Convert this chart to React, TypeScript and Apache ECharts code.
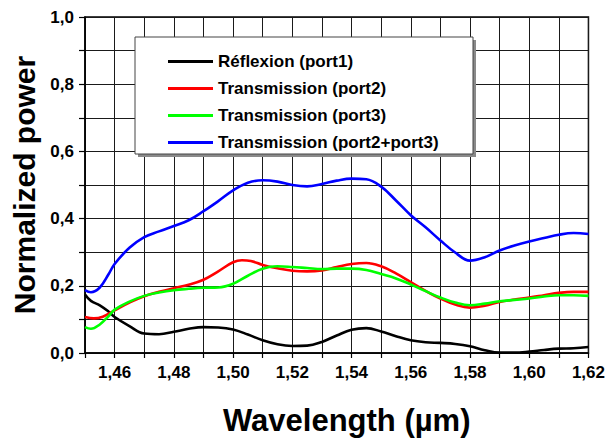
import React, { useEffect, useRef } from "react";
import * as echarts from "echarts";

const seriesNames = [
  "Réflexion (port1)",
  "Transmission (port2)",
  "Transmission (port3)",
  "Transmission (port2+port3)",
];
const seriesColors = ["#000000", "#ff0000", "#00ff00", "#0000ff"];

const port1: [number, number][] = [
  [1.45, 0.174], [1.452, 0.155], [1.455, 0.142], [1.458, 0.123], [1.46, 0.107],
  [1.465, 0.08], [1.47, 0.058], [1.475, 0.056], [1.48, 0.063], [1.485, 0.072],
  [1.49, 0.077], [1.495, 0.076], [1.5, 0.07], [1.505, 0.055], [1.51, 0.038],
  [1.515, 0.026], [1.52, 0.021], [1.525, 0.022], [1.53, 0.033], [1.535, 0.052],
  [1.54, 0.069], [1.545, 0.074], [1.55, 0.064], [1.555, 0.05], [1.56, 0.038],
  [1.565, 0.032], [1.57, 0.03], [1.575, 0.027], [1.58, 0.02], [1.585, 0.008],
  [1.59, 0.001], [1.595, 0.001], [1.6, 0.004], [1.605, 0.009], [1.61, 0.013],
  [1.615, 0.014], [1.62, 0.018],
];
const port2: [number, number][] = [
  [1.45, 0.107], [1.453, 0.103], [1.456, 0.108], [1.46, 0.127], [1.465, 0.15],
  [1.47, 0.169], [1.475, 0.182], [1.48, 0.193], [1.485, 0.203], [1.49, 0.218],
  [1.495, 0.243], [1.5, 0.27], [1.503, 0.276], [1.506, 0.274], [1.51, 0.262],
  [1.515, 0.252], [1.52, 0.245], [1.525, 0.243], [1.53, 0.246], [1.535, 0.256],
  [1.54, 0.265], [1.545, 0.268], [1.55, 0.258], [1.555, 0.237], [1.56, 0.211],
  [1.565, 0.185], [1.57, 0.162], [1.575, 0.144], [1.58, 0.135], [1.585, 0.141],
  [1.59, 0.152], [1.595, 0.159], [1.6, 0.165], [1.605, 0.172], [1.61, 0.179],
  [1.615, 0.182], [1.62, 0.182],
];
const port3: [number, number][] = [
  [1.45, 0.077], [1.452, 0.072], [1.455, 0.085], [1.458, 0.11], [1.46, 0.129],
  [1.465, 0.153], [1.47, 0.17], [1.475, 0.18], [1.48, 0.187], [1.485, 0.191],
  [1.49, 0.194], [1.495, 0.195], [1.5, 0.206], [1.505, 0.23], [1.51, 0.251],
  [1.515, 0.258], [1.52, 0.256], [1.525, 0.253], [1.53, 0.25], [1.535, 0.251],
  [1.54, 0.251], [1.545, 0.247], [1.55, 0.235], [1.555, 0.222], [1.56, 0.204],
  [1.565, 0.184], [1.57, 0.165], [1.575, 0.15], [1.58, 0.142], [1.585, 0.147],
  [1.59, 0.154], [1.595, 0.158], [1.6, 0.162], [1.605, 0.168], [1.61, 0.172],
  [1.615, 0.172], [1.62, 0.17],
];
const port23: [number, number][] = [
  [1.45, 0.187], [1.452, 0.181], [1.455, 0.195], [1.458, 0.235], [1.46, 0.265],
  [1.465, 0.313], [1.47, 0.345], [1.475, 0.362], [1.48, 0.378], [1.485, 0.395],
  [1.49, 0.422], [1.495, 0.452], [1.5, 0.484], [1.505, 0.507], [1.51, 0.514],
  [1.515, 0.51], [1.52, 0.5], [1.525, 0.496], [1.53, 0.503], [1.535, 0.513],
  [1.54, 0.519], [1.545, 0.517], [1.55, 0.495], [1.555, 0.454], [1.56, 0.41],
  [1.565, 0.374], [1.57, 0.335], [1.575, 0.299], [1.58, 0.275], [1.585, 0.285],
  [1.59, 0.305], [1.595, 0.32], [1.6, 0.332], [1.605, 0.342], [1.61, 0.352],
  [1.615, 0.357], [1.62, 0.354],
];
const seriesData = [port1, port2, port3, port23];

const xTitle = "Wavelength (µm)";
const yTitle = "Normalized power";

const FONT = '"Liberation Sans", Arial, sans-serif';

export default function App() {
  const ref = useRef<HTMLDivElement>(null);
  useEffect(() => {
    if (!ref.current) return;
    const chart = echarts.init(ref.current, null, { renderer: "svg" });
    const gridLine = { show: true, lineStyle: { color: "#1a1a1a", width: 1 } };
    chart.setOption({
      animation: false,
      backgroundColor: "#ffffff",
      grid: { left: 85, top: 17, right: 16, bottom: 88, show: true, borderColor: "#000", borderWidth: 1.5, backgroundColor: "transparent" },
      xAxis: {
        type: "value",
        min: 1.45,
        max: 1.62,
        interval: 0.01,
        name: xTitle,
        nameLocation: "middle",
        nameGap: 52,
        nameTextStyle: { fontFamily: FONT, fontWeight: "bold", fontSize: 31, color: "#000", padding: [0, 0, 0, 20] },
        axisLine: { show: true, lineStyle: { color: "#000", width: 1.5 } },
        axisTick: { show: true, length: 5, lineStyle: { color: "#000", width: 1.2 } },
        splitLine: gridLine,
        axisLabel: {
          fontFamily: FONT,
          fontWeight: "bold",
          fontSize: 17,
          color: "#000",
          margin: 11,
          showMinLabel: true,
          showMaxLabel: true,
          formatter: (v: number) => {
            const h = Math.round(v * 100);
            if (h % 2 !== 0) return "";
            return v.toFixed(2).replace(".", ",");
          },
        },
      },
      yAxis: {
        type: "value",
        min: 0,
        max: 1,
        interval: 0.1,
        name: yTitle,
        nameLocation: "middle",
        nameRotate: 90,
        nameGap: 40,
        nameTextStyle: { fontFamily: FONT, fontWeight: "bold", fontSize: 30, color: "#000" },
        axisLine: { show: true, lineStyle: { color: "#000", width: 1.5 } },
        axisTick: { show: true, length: 6, lineStyle: { color: "#000", width: 1.2 } },
        splitLine: gridLine,
        axisLabel: {
          fontFamily: FONT,
          fontWeight: "bold",
          fontSize: 17,
          color: "#000",
          margin: 11,
          formatter: (v: number) => {
            const t = Math.round(v * 10);
            if (t % 2 !== 0) return "";
            return v.toFixed(1).replace(".", ",");
          },
        },
      },
      legend: {
        orient: "vertical",
        left: 135,
        top: 37,
        padding: [16, 0, 0, 33],
        itemWidth: 45,
        itemHeight: 14,
        itemGap: 10,
        icon: "path://M0,0 L45,0 L45,3 L0,3 Z",
        z: 10,
        textStyle: { fontFamily: FONT, fontWeight: "bold", fontSize: 17, lineHeight: 14, color: "#000" },
        data: seriesNames,
      },
      graphic: [
        {
          type: "rect",
          z: 8,
          shape: { x: 138, y: 40, width: 338, height: 117 },
          style: { fill: "#8a8a8a" },
        },
        {
          type: "rect",
          z: 9,
          shape: { x: 135, y: 37, width: 338, height: 117 },
          style: { fill: "#ffffff", stroke: "#444", lineWidth: 1 },
        },
      ],
      series: seriesNames.map((name, i) => ({
        name,
        type: "line",
        data: seriesData[i],
        smooth: 0.4,
        symbol: "none",
        z: 3,
        lineStyle: { color: seriesColors[i], width: 2.6 },
        itemStyle: { color: seriesColors[i] },
      })),
    });
    return () => chart.dispose();
  }, []);
  return <div ref={ref} style={{ position: "fixed", left: 0, top: 0, width: 608, height: 441 }} />;
}
